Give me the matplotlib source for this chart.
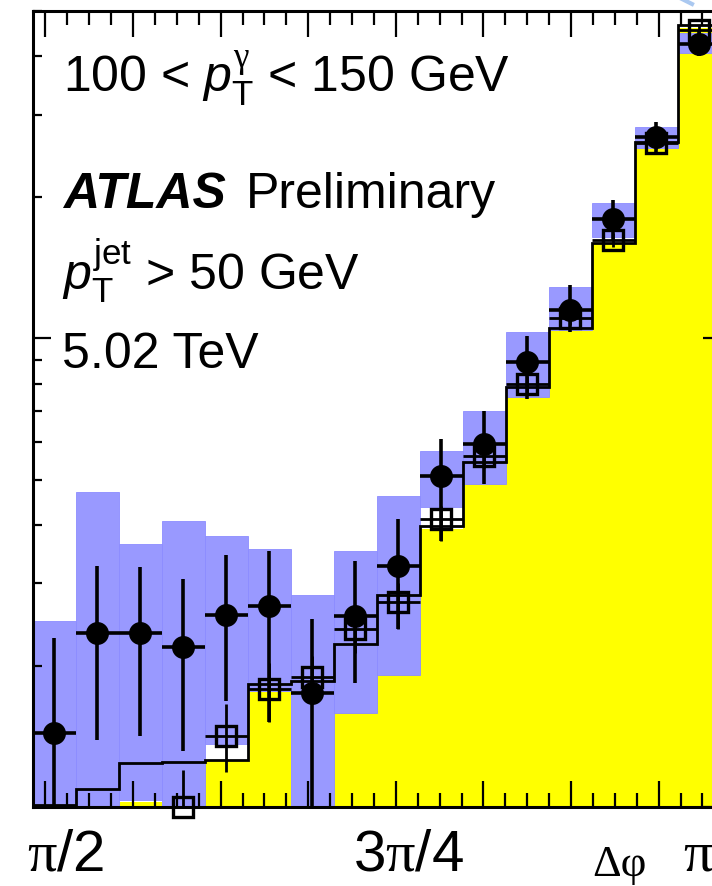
import numpy as np
import matplotlib
matplotlib.use("Agg")
import matplotlib.pyplot as plt
from matplotlib.ticker import MultipleLocator, LogLocator, NullFormatter
from matplotlib.lines import Line2D

plt.rcParams['font.family'] = ['Liberation Sans', 'DejaVu Sans']
plt.rcParams['mathtext.fontset'] = 'custom'
plt.rcParams['mathtext.rm'] = 'Liberation Sans'
plt.rcParams['mathtext.it'] = 'Liberation Sans:italic'
plt.rcParams['mathtext.bf'] = 'Liberation Sans:bold'
plt.rcParams['mathtext.sf'] = 'Liberation Serif'

# 16 bins in delta phi between pi/2 and pi
edges = np.linspace(np.pi/2, np.pi, 17)
centers = 0.5*(edges[1:] + edges[:-1])
width = edges[1] - edges[0]

# data points with stat errors (values below 0.1 sit under the frame)
data_val = np.array([0.144, 0.235, 0.235, 0.219, 0.257, 0.268, 0.175, 0.256,
                     0.327, 0.509, 0.595, 0.893, 1.152, 1.80, 2.69, 4.26])
data_hi = np.array([0.230, 0.327, 0.326, 0.307, 0.345, 0.352, 0.252, 0.335,
                    0.412, 0.610, 0.700, 1.010, 1.303, 1.975, 2.895, 4.545])
data_lo = np.array([0.05, 0.139, 0.142, 0.132, 0.168, 0.152, 0.05, 0.184,
                    0.240, 0.370, 0.489, 0.742, 1.030, 1.624, 2.487, 4.00])

# systematic band on data
sys_hi = np.array([0.250, 0.470, 0.365, 0.408, 0.379, 0.356, 0.284, 0.352,
                   0.461, 0.575, 0.700, 1.030, 1.290, 1.947, 2.826, 4.478])
sys_lo = np.array([0.05, 0.05, 0.1035, 0.05, 0.136, 0.1765, 0.05, 0.1585,
                   0.191, 0.437, 0.489, 0.749, 1.045, 1.648, 2.549, 4.06])

# filled MC histogram
mc_fill = np.array([0.05, 0.05, 0.1024, 0.05, 0.126, 0.176, 0.05, 0.1585,
                    0.191, 0.392, 0.545, 0.787, 1.055, 1.60, 2.54, 4.61])

# line histogram
mc_line = np.array([0.101, 0.109, 0.124, 0.125, 0.126, 0.183, 0.186, 0.223,
                    0.283, 0.398, 0.545, 0.787, 1.055, 1.60, 2.625, 4.657])

# open squares
sq_val = np.array([np.nan, np.nan, np.nan, 0.100, 0.142, 0.179, 0.189, 0.240,
                   0.274, 0.412, 0.561, 0.798, 1.108, 1.624, 2.61, 4.545])
sq_hi = np.array([np.nan, np.nan, np.nan, 0.120, 0.166, 0.203, 0.210, 0.265,
                  0.300, 0.440, 0.590, 0.830, 1.150, 1.680, 2.68, 4.66])
sq_lo = np.array([np.nan, np.nan, np.nan, 0.05, 0.119, 0.152, 0.168, 0.213,
                  0.240, 0.370, 0.530, 0.765, 1.070, 1.570, 2.54, 4.43])

fig = plt.figure(figsize=(7.12, 8.87), dpi=100)
ax = fig.add_axes([32.7/712, 79/887, 688/712, 796/887])
ax.set_yscale('log')
ax.set_xlim(np.pi/2, np.pi)
ax.set_ylim(0.1, 5.0)
ax.set_axisbelow(False)

ax.stairs(mc_fill, edges, fill=True, baseline=1e-3, color='#ffff00', zorder=1)
ax.bar(centers, sys_hi - sys_lo, bottom=sys_lo, width=width,
       color='#9999ff', edgecolor='#8c8cff', linewidth=0.6, zorder=1.2)
ax.stairs(mc_line, edges, color='k', lw=2, zorder=2)

sq = ax.errorbar(centers, sq_val, yerr=[sq_val - sq_lo, sq_hi - sq_val], xerr=width/2,
                 fmt='s', ms=14, mfc='none', mec='k', mew=2.4,
                 ecolor='k', elinewidth=2.0, capsize=0, zorder=3)
sq.lines[0].set_clip_on(False)
dt = ax.errorbar(centers, data_val, yerr=[data_val - data_lo, data_hi - data_val], xerr=width/2,
                 fmt='o', ms=15.5, color='k', elinewidth=2.6, capsize=0, zorder=4)
dt.lines[0].set_clip_on(False)

for s in ax.spines.values():
    s.set_linewidth(2.2)
    s.set_zorder(5)

ax.xaxis.set_major_locator(MultipleLocator(0.2))
ax.xaxis.set_minor_locator(MultipleLocator(0.05))
ax.yaxis.set_major_locator(LogLocator(base=10))
ax.yaxis.set_minor_locator(LogLocator(base=10, subs=np.arange(2, 10)))
ax.xaxis.set_major_formatter(NullFormatter())
ax.xaxis.set_minor_formatter(NullFormatter())
ax.yaxis.set_major_formatter(NullFormatter())
ax.yaxis.set_minor_formatter(NullFormatter())
ax.tick_params(axis='both', which='both', direction='in', top=True, right=True, width=1.6)
ax.tick_params(axis='x', which='major', length=19)
ax.tick_params(axis='x', which='minor', length=10)
ax.tick_params(axis='y', which='major', length=13)
ax.tick_params(axis='y', which='minor', length=6.5)

# x labels
fig.text(27/712, 1 - 871/887, r"$\mathsf{\pi}$/2", fontsize=42, ha='left', va='baseline')
fig.text(353/712, 1 - 871/887, r"3$\mathsf{\pi}$/4", fontsize=42, ha='left', va='baseline')
fig.text(683/712, 1 - 871/887, r"$\mathsf{\pi}$", fontsize=42, ha='left', va='baseline')
fig.text(592/712, 1 - 876/887, "Δφ", fontsize=32, family='Liberation Serif',
         ha='left', va='baseline')

# labels inside the frame
fs = 36
fig.text(63/712, 1 - 93/887, r"100 < $p_{\mathrm{T}}^{\mathsf{\gamma}}$ < 150 GeV",
         fontsize=fs, ha='left', va='baseline')
fig.text(63/712, 1 - 208/887, "ATLAS", fontsize=fs, weight='bold', style='italic',
         ha='left', va='baseline')
fig.text(246/712, 1 - 208/887, "Preliminary", fontsize=fs, ha='left', va='baseline')
fig.text(62/712, 1 - 290/887, r"$p_{\mathrm{T}}^{\mathrm{jet}}$ > 50 GeV",
         fontsize=fs, ha='left', va='baseline')
fig.text(62/712, 1 - 368/887, "5.02 TeV", fontsize=fs, ha='left', va='baseline')

# small arrow fragment at the top edge
fig.add_artist(Line2D([682/712, 692/712], [1.0, 1 - 5/887], color='#aac8f0', lw=3,
                      transform=fig.transFigure))

fig.savefig('out.png', dpi=100)
